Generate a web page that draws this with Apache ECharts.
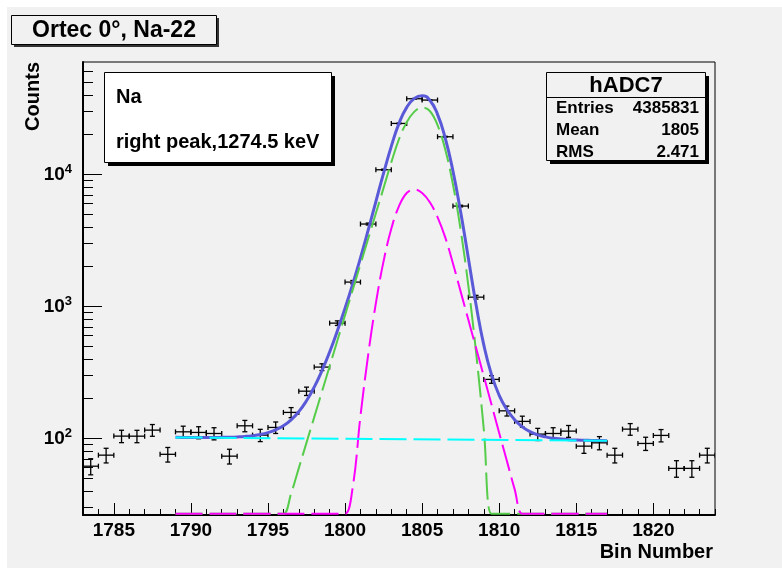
<!DOCTYPE html>
<html>
<head>
<meta charset="utf-8">
<title>Ortec 0°, Na-22</title>
<script src="https://cdn.jsdelivr.net/npm/echarts@6/dist/echarts.min.js"></script>
<style>
  html, body { margin: 0; padding: 0; background: #ffffff; }
  #chart { width: 782px; height: 568px; }
</style>
</head>
<body>
<div id="chart"></div>
<script>
// Histogram hADC7: bin centres, counts and their errors
const binCenters = [
  1783.5, 1784.5, 1785.5, 1786.5, 1787.5, 1788.5, 1789.5, 1790.5, 1791.5, 1792.5,
  1793.5, 1794.5, 1795.5, 1796.5, 1797.5, 1798.5, 1799.5, 1800.5, 1801.5, 1802.5,
  1803.5, 1804.5, 1805.5, 1806.5, 1807.5, 1808.5, 1809.5, 1810.5, 1811.5, 1812.5,
  1813.5, 1814.5, 1815.5, 1816.5, 1817.5, 1818.5, 1819.5, 1820.5, 1821.5, 1822.5,
  1823.5
];
const counts = [
  61.6, 74.7, 104.1, 104.0, 115.6, 75.8, 112.2, 111.0, 109.0, 73.4,
  124.6, 105.9, 121.1, 157.4, 228, 347, 747, 1528, 4207, 10840,
  24320, 37410, 36560, 19280, 5755, 1175, 280, 161.8, 134.6, 107.8,
  109.0, 113.6, 87.4, 92.6, 74.7, 117.6, 91.6, 105.4, 59.3, 59.3,
  74.7
];
const countErrors = [
  8.6, 9.5, 11.2, 11.2, 11.8, 9.6, 11.6, 11.6, 11.5, 9.4,
  12.3, 11.3, 12.1, 13.8, 16.6, 20.5, 30, 43, 71, 115,
  172, 213, 210, 153, 83, 38, 18.4, 14.0, 12.8, 11.4,
  11.5, 11.7, 10.3, 10.6, 9.5, 11.9, 10.5, 11.3, 8.5, 8.5,
  9.5
];

// Fit curves sampled over the fit range 1789 - 1817
const fitX = [
  1789, 1789.5, 1790, 1790.5, 1791, 1791.5, 1792, 1792.5, 1793, 1793.5,
  1794, 1794.5, 1795, 1795.5, 1796, 1796.5, 1797, 1797.5, 1798, 1798.5,
  1799, 1799.5, 1800, 1800.5, 1801, 1801.5, 1802, 1802.5, 1803, 1803.5,
  1804, 1804.5, 1805, 1805.5, 1806, 1806.5, 1807, 1807.5, 1808, 1808.5,
  1809, 1809.5, 1810, 1810.5, 1811, 1811.5, 1812, 1812.5, 1813, 1813.5,
  1814, 1814.5, 1815, 1815.5, 1816, 1816.5, 1817
];
// total fit (solid blue)
const fitTotal = [
  101.9, 101.8, 101.7, 101.7, 101.7, 101.7, 101.9, 102.2, 102.7, 103.5,
  104.9, 107.1, 110.7, 116.2, 124.9, 138.4, 159.7, 193, 244.8, 325.8,
  452, 652, 967, 1479, 2331, 3780, 6227, 10207, 16299, 24341,
  32187, 37675, 39487, 36449, 28491, 18850, 10595, 5185, 2320, 1031,
  511, 304, 212, 165.6, 138.7, 122.4, 112.5, 106.4, 102.7, 100.3,
  98.9, 97.9, 97.3, 96.9, 96.6, 96.4, 96.1
];
// main peak component (green dashed)
const fitPeakMain = [
  0.05, 0.08, 0.12, 0.18, 0.29, 0.45, 0.70, 1.09, 1.70, 2.65,
  4.14, 6.46, 10.1, 15.7, 24.5, 38.2, 59.6, 92.9, 144.9, 226,
  352, 550, 857, 1337, 2084, 3251, 5070, 7907, 12330, 18490,
  24860, 29890, 32170, 30200, 23640, 15420, 8380, 3793, 1431, 449,
  117.6, 25.6, 4.7, 0.7, 0.09, 0.01, 0.01, 0.01, 0.01, 0.01,
  0.01, 0.01, 0.01, 0.01, 0.01, 0.01, 0.01
];
// second peak component (magenta dashed)
const fitPeakSecond = [
  0.01, 0.01, 0.01, 0.01, 0.01, 0.01, 0.01, 0.01, 0.01, 0.01,
  0.01, 0.01, 0.01, 0.01, 0.01, 0.01, 0.01, 0.01, 0.01, 0.01,
  0.38, 2.2, 10.5, 42.9, 147.8, 430, 1058, 2201, 3870, 5752,
  7228, 7686, 7218, 6151, 4753, 3332, 2117, 1294, 791, 484,
  296, 181, 110, 67.5, 41.3, 25.2, 15.4, 9.4, 5.8, 3.5,
  2.2, 1.3, 0.8, 0.5, 0.3, 0.18, 0.11
];
// linear background (cyan dashed)
const backgroundX = [1789, 1817];
const backgroundY = [101.8, 96.0];

// Axis ticks and labels
const xMajorTicks = [1785, 1790, 1795, 1800, 1805, 1810, 1815, 1820];
const xMinorTicks = [
  1783, 1784, 1785, 1786, 1787, 1788, 1789, 1790, 1791, 1792, 1793, 1794, 1795, 1796,
  1797, 1798, 1799, 1800, 1801, 1802, 1803, 1804, 1805, 1806, 1807, 1808, 1809, 1810,
  1811, 1812, 1813, 1814, 1815, 1816, 1817, 1818, 1819, 1820, 1821, 1822, 1823, 1824
];
const yMajorTicks = [100, 1000, 10000];
const yMinorTicks = [
  30, 40, 50, 60, 70, 80, 90,
  200, 300, 400, 500, 600, 700, 800, 900,
  2000, 3000, 4000, 5000, 6000, 7000, 8000, 9000,
  20000, 30000, 40000, 50000, 60000
];

const statsRows = [
  ['Entries', '4385831'],
  ['Mean', '1805'],
  ['RMS', '2.471']
];

const X_MIN = 1783, X_MAX = 1824;
const Y_MIN = 26.3, Y_MAX = 71000;
const FONT = '"Liberation Sans", Arial, Helvetica, sans-serif';

// functions are drawn along the frame floor where they drop below the axis
const FLOOR = Y_MIN * 1.02;
const floorAt = (v) => Math.max(v, FLOOR);
const pairs = (xs, ys, f) => xs.map((x, i) => [x, f ? f(ys[i]) : ys[i]]);

function renderErrorBar(params, api) {
  const x = api.value(0), v = api.value(1), e = api.value(2);
  const c = api.coord([x, v]);
  const l = api.coord([x - 0.5, v]);
  const r = api.coord([x + 0.5, v]);
  const t = api.coord([x, v + e]);
  const b = api.coord([x, v - e]);
  const cap = 2.5;
  const style = { stroke: '#000', lineWidth: 1.3 };
  const seg = (x1, y1, x2, y2) => ({ type: 'line', shape: { x1, y1, x2, y2 }, style });
  return {
    type: 'group',
    children: [
      seg(l[0], c[1], r[0], c[1]),
      seg(c[0], t[1], c[0], b[1]),
      seg(l[0], c[1] - cap, l[0], c[1] + cap),
      seg(r[0], c[1] - cap, r[0], c[1] + cap),
      seg(c[0] - cap, t[1], c[0] + cap, t[1]),
      seg(c[0] - cap, b[1], c[0] + cap, b[1])
    ]
  };
}

const boldText = (size) => ({ fontSize: size, fontWeight: 'bold', fontFamily: FONT, fill: '#000' });
function textEl(str, x, y, size, align, extra) {
  return Object.assign({
    type: 'text', x, y, z: 110,
    style: Object.assign(boldText(size), {
      text: str, align, textAlign: align, verticalAlign: 'middle', textVerticalAlign: 'middle'
    })
  }, extra || {});
}
function boxEl(x, y, w, h, fill, shadow, shadowColor) {
  return [
    { type: 'rect', z: 100, shape: { x: x + shadow, y: y + shadow, width: w, height: h },
      style: { fill: shadowColor, stroke: null } },
    { type: 'rect', z: 101, shape: { x, y, width: w, height: h },
      style: { fill, stroke: '#000', lineWidth: 1 } }
  ];
}

const graphics = [
  // white margin strips of the canvas
  { type: 'rect', z: 0, shape: { x: 0, y: 0, width: 782, height: 7 }, style: { fill: '#fff' } },
  { type: 'rect', z: 0, shape: { x: 0, y: 0, width: 7, height: 568 }, style: { fill: '#fff' } },
  // title
  ...boxEl(11.5, 15.5, 205, 29, '#f1f1f1', 2.5, '#333'),
  textEl('Ortec 0°, Na-22', 114, 30.5, 23, 'center'),
  // note box
  ...boxEl(104.5, 72.5, 227, 90, '#ffffff', 3.5, '#000'),
  textEl('Na', 116, 97, 20, 'left'),
  textEl('right peak,1274.5 keV', 116, 142, 20, 'left'),
  // statistics box
  ...boxEl(546.5, 72.5, 159, 88, '#f1f1f1', 3.5, '#000'),
  { type: 'line', z: 102, shape: { x1: 546.5, y1: 97.5, x2: 705.5, y2: 97.5 },
    style: { stroke: '#000', lineWidth: 1 } },
  textEl('hADC7', 626, 85.5, 22, 'center'),
  ...statsRows.flatMap((row, i) => [
    textEl(row[0], 556, 108.5 + i * 22, 17, 'left'),
    textEl(row[1], 699, 108.5 + i * 22, 17, 'right')
  ]),
  // axis titles
  textEl('Bin Number', 713, 552, 20, 'right'),
  textEl('Counts', 0, 0, 20, 'right', { x: 33, y: 62, rotation: Math.PI / 2 })
];

const xAxisBase = { type: 'value', min: X_MIN, max: X_MAX, position: 'bottom', splitLine: { show: false } };
const yAxisBase = { type: 'log', logBase: 10, min: Y_MIN, max: Y_MAX, position: 'left', splitLine: { show: false } };

const option = {
  animation: false,
  backgroundColor: '#f1f1f1',
  grid: {
    left: 83, right: 67, top: 62, bottom: 53,
    show: true, borderColor: '#000', borderWidth: 1, backgroundColor: 'transparent',
    outerBoundsMode: 'none'
  },
  xAxis: [
    Object.assign({}, xAxisBase, {
      axisLine: { show: true, onZero: false, lineStyle: { color: '#000', width: 2 } },
      axisTick: { show: true, inside: true, length: 12, customValues: xMajorTicks, lineStyle: { color: '#000', width: 1 } },
      axisLabel: {
        show: true, customValues: xMajorTicks, margin: 6, color: '#000',
        fontSize: 19, fontWeight: 'bold', fontFamily: FONT,
        formatter: (v) => String(v)
      }
    }),
    Object.assign({}, xAxisBase, {
      axisLine: { show: false },
      axisTick: { show: true, inside: true, length: 6, customValues: xMinorTicks, lineStyle: { color: '#000', width: 1 } },
      axisLabel: { show: false }
    })
  ],
  yAxis: [
    Object.assign({}, yAxisBase, {
      axisLine: { show: true, onZero: false, lineStyle: { color: '#000', width: 2 } },
      axisTick: { show: true, inside: true, length: 19, customValues: yMajorTicks, lineStyle: { color: '#000', width: 1 } },
      axisLabel: {
        show: true, customValues: yMajorTicks, margin: 11,
        formatter: (v) => '{b|10}{s|' + Math.round(Math.log10(v)) + '}',
        rich: {
          b: { fontSize: 19, fontWeight: 'bold', fontFamily: FONT, color: '#000' },
          s: { fontSize: 13, fontWeight: 'bold', fontFamily: FONT, color: '#000', padding: [0, 0, 10, 0] }
        }
      }
    }),
    Object.assign({}, yAxisBase, {
      axisLine: { show: false },
      axisTick: { show: true, inside: true, length: 10, customValues: yMinorTicks, lineStyle: { color: '#000', width: 1 } },
      axisLabel: { show: false }
    })
  ],
  graphic: { elements: graphics },
  series: [
    {
      name: 'hADC7', type: 'custom', xAxisIndex: 0, yAxisIndex: 0, clip: true, z: 3,
      encode: { x: 0, y: 1 },
      data: binCenters.map((x, i) => [x, counts[i], countErrors[i]]),
      renderItem: renderErrorBar
    },
    {
      name: 'fit', type: 'line', xAxisIndex: 0, yAxisIndex: 0, z: 4,
      data: pairs(fitX, fitTotal, floorAt), smooth: 0.5, showSymbol: false, symbol: 'none',
      lineStyle: { color: '#5a5ad8', width: 3 }
    },
    {
      name: 'peak 1', type: 'line', xAxisIndex: 0, yAxisIndex: 0, z: 5,
      data: pairs(fitX, fitPeakMain, floorAt), smooth: 0.4, showSymbol: false, symbol: 'none',
      lineStyle: { color: '#55cc4a', width: 2, type: [27, 7] }
    },
    {
      name: 'peak 2', type: 'line', xAxisIndex: 0, yAxisIndex: 0, z: 6,
      data: pairs(fitX, fitPeakSecond, floorAt), smooth: 0.4, showSymbol: false, symbol: 'none',
      lineStyle: { color: '#ff00ff', width: 2, type: [27, 7] }
    },
    {
      name: 'background', type: 'line', xAxisIndex: 0, yAxisIndex: 0, z: 7,
      data: pairs(backgroundX, backgroundY), showSymbol: false, symbol: 'none',
      lineStyle: { color: '#00ffff', width: 2, type: [27, 7] }
    }
  ]
};

const chart = echarts.init(document.getElementById('chart'), null, { renderer: 'canvas' });
chart.setOption(option);
</script>
</body>
</html>
